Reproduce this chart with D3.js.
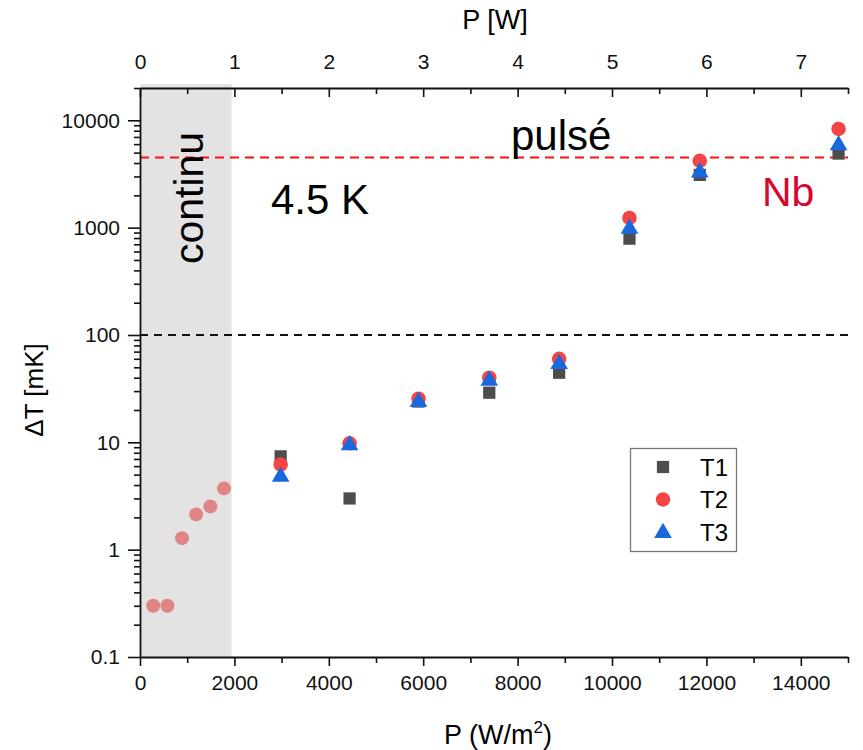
<!DOCTYPE html>
<html>
<head>
<meta charset="utf-8">
<script src="https://cdn.jsdelivr.net/npm/d3@7"></script>
<style>
  body { margin: 0; background: #fff; }
  svg { font-family: "Liberation Sans", Arial, sans-serif; }
</style>
</head>
<body>
<svg width="863" height="750"></svg>
<script>
// pulsed measurements (W/m^2)
const pulseP = [2980, 4440, 5900, 7400, 8880, 10370, 11860, 14800];
const t1 = [7.4, 3.0, 24, 29, 44.5, 790, 3100, 4900];
const t2 = [6.2, 9.8, 25.5, 40, 60, 1230, 4200, 8300];
const t3 = [4.9, 9.6, 24.3, 38.4, 55, 1000, 3350, 6000];

// continuous regime
const contP = [280, 580, 890, 1190, 1490, 1780];
const contT = [0.3, 0.3, 1.28, 2.13, 2.53, 3.72];

const yTicks = [0.1, 1, 10, 100, 1000, 10000];
const xTicks = [0, 2000, 4000, 6000, 8000, 10000, 12000, 14000];
const wTicks = [0, 1, 2, 3, 4, 5, 6, 7];
const contLimit = 1940;
const nbLimit = 4500;   // 4.5 K
const pulseLimit = 100;

const svg = d3.select("svg");
const plot = {left: 140, right: 848, top: 88, bottom: 657};

const x = d3.scaleLinear().domain([0, 15000]).range([plot.left, plot.right]);
const xw = d3.scaleLinear().domain([0, 7.5]).range([plot.left, plot.right]);
const y = d3.scaleLog().domain([0.1, 20000]).range([plot.bottom, plot.top]);

// gray "continu" zone
svg.append("rect")
  .attr("x", x(0)).attr("y", plot.top - 4)
  .attr("width", x(contLimit) - x(0))
  .attr("height", plot.bottom - plot.top + 4)
  .attr("fill", "#e3e3e3");

// reference lines
svg.append("line")
  .attr("x1", x(0)).attr("x2", plot.right)
  .attr("y1", y(nbLimit)).attr("y2", y(nbLimit))
  .attr("stroke", "#ff1010").attr("stroke-width", 2)
  .attr("stroke-dasharray", "9,6");
svg.append("line")
  .attr("x1", x(0)).attr("x2", plot.right)
  .attr("y1", y(pulseLimit)).attr("y2", y(pulseLimit))
  .attr("stroke", "#111").attr("stroke-width", 2)
  .attr("stroke-dasharray", "8,6");

// axes
const fmt = d => d3.format("~g")(d);
const yMinor = [];
for (let e = -1; e < 5; e++) for (let k = 2; k <= 9; k++) {
  const v = k * Math.pow(10, e);
  if (v <= 20000) yMinor.push(v);
}

const yAxis = svg.append("g").attr("transform", `translate(${plot.left},0)`);
yAxis.call(d3.axisLeft(y).tickValues(yTicks).tickFormat(fmt).tickSize(12).tickPadding(8).tickSizeOuter(0));
yAxis.append("g").call(d3.axisLeft(y).tickValues(yMinor).tickFormat("").tickSize(6))
  .select(".domain").remove();

const xAxis = svg.append("g").attr("transform", `translate(0,${plot.bottom})`);
xAxis.call(d3.axisBottom(x).tickValues(xTicks).tickFormat(d3.format("d")).tickSize(9).tickPadding(9).tickSizeOuter(0));
xAxis.append("g").call(d3.axisBottom(x).tickValues(d3.range(1000, 15001, 2000)).tickFormat("").tickSize(6))
  .select(".domain").remove();

const wAxis = svg.append("g").attr("transform", `translate(0,${plot.top})`);
wAxis.call(d3.axisTop(xw).tickValues(wTicks).tickSize(-9).tickPadding(10).tickSizeOuter(0));
wAxis.append("g").call(d3.axisTop(xw).tickValues(d3.range(0.5, 7.6, 1)).tickFormat("").tickSize(-6))
  .select(".domain").remove();

svg.selectAll(".domain").attr("stroke", "#111").attr("stroke-width", 1.8);
svg.selectAll(".tick line").attr("stroke", "#111").attr("stroke-width", 1.6);
svg.selectAll(".tick text").attr("font-size", 21).attr("fill", "#111")
  .attr("font-family", "Liberation Sans, Arial, sans-serif");
wAxis.selectAll(".tick text").attr("y", -19);

// axis titles
svg.append("text").attr("x", 495).attr("y", 29).attr("text-anchor", "middle")
  .attr("font-size", 27).text("P [W]");
const xt = svg.append("text").attr("x", 498).attr("y", 744).attr("text-anchor", "middle")
  .attr("font-size", 27);
xt.append("tspan").text("P (W/m");
xt.append("tspan").attr("font-size", 17).attr("dy", -11).text("2");
xt.append("tspan").attr("dy", 11).text(")");
svg.append("text").attr("transform", "translate(43,390) rotate(-90)")
  .attr("text-anchor", "middle").attr("font-size", 26).text("ΔT [mK]");

// annotations
svg.append("text").attr("transform", "translate(203,198) rotate(-90)")
  .attr("text-anchor", "middle").attr("font-size", 41).text("continu");
svg.append("text").attr("x", 511).attr("y", 150).attr("font-size", 42).text("pulsé");
svg.append("text").attr("x", 271).attr("y", 214).attr("font-size", 42).text("4.5 K");
svg.append("text").attr("x", 762).attr("y", 206).attr("font-size", 41)
  .attr("fill", "#d9072e").text("Nb");

// continuous points
svg.append("g").selectAll("circle")
  .data(contP.map((p, i) => [p, contT[i]]))
  .join("circle")
  .attr("cx", d => x(d[0])).attr("cy", d => y(d[1]))
  .attr("r", 7).attr("fill", "#e08585");

// pulsed series
const sq = d3.symbol().type(d3.symbolSquare).size(150);
const ci = d3.symbol().type(d3.symbolCircle).size(165);
const tr = d3.symbol().type(d3.symbolTriangle).size(135);

const series = [
  { name: "T1", vals: t1, sym: sq, color: "#4d4d4d", dy: 0 },
  { name: "T2", vals: t2, sym: ci, color: "#f44444", dy: 0 },
  { name: "T3", vals: t3, sym: tr, color: "#1a68e0", dy: 1 }
];

series.forEach(s => {
  svg.append("g").selectAll("path")
    .data(pulseP.map((p, i) => [p, s.vals[i]]))
    .join("path")
    .attr("d", s.sym)
    .attr("transform", d => `translate(${x(d[0])},${y(d[1]) + s.dy})`)
    .attr("fill", s.color);
});

// legend
const lg = svg.append("g");
lg.append("rect").attr("x", 630.5).attr("y", 448.5).attr("width", 106).attr("height", 103)
  .attr("fill", "#fff").attr("stroke", "#777").attr("stroke-width", 1.3);
series.forEach((s, i) => {
  const ry = 467 + i * 32.5;
  lg.append("path").attr("d", s.sym).attr("transform", `translate(663,${ry + s.dy})`)
    .attr("fill", s.color);
  lg.append("text").attr("x", 700).attr("y", ry + 8.5).attr("font-size", 24).text(s.name);
});
</script>
</body>
</html>
